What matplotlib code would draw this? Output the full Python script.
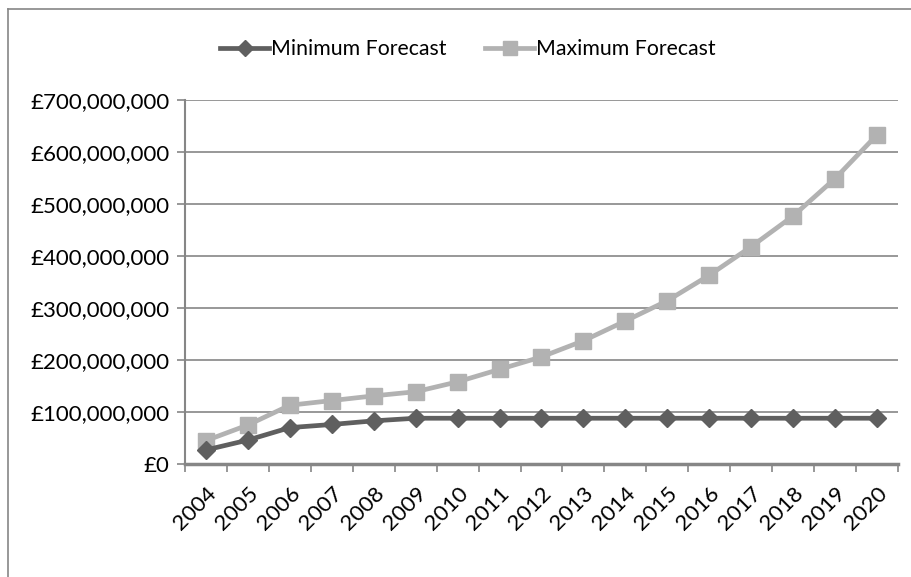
import matplotlib
matplotlib.use("Agg")
import matplotlib.pyplot as plt
from matplotlib.ticker import FuncFormatter, MultipleLocator, FixedLocator
from matplotlib.lines import Line2D

years = ["2004", "2005", "2006", "2007", "2008", "2009", "2010", "2011", "2012",
         "2013", "2014", "2015", "2016", "2017", "2018", "2019", "2020"]
min_forecast = [27e6, 46e6, 70e6, 76e6, 83e6, 88e6, 88e6, 88e6, 88e6,
                88e6, 88e6, 88e6, 88e6, 88e6, 88e6, 88e6, 88e6]
max_forecast = [45e6, 75e6, 113e6, 122e6, 131e6, 139e6, 158e6, 182e6, 206e6,
                237e6, 275e6, 314e6, 363e6, 418e6, 477e6, 549e6, 633e6]

plt.rcParams['font.family'] = ['Lato', 'DejaVu Sans']

fig = plt.figure(figsize=(9.12, 5.77), dpi=100)
ax = fig.add_axes([185/912, 1-464/577, (898-185)/912, (464-100)/577])

x = list(range(len(years)))
grid_c = "#868686"
ax.plot(x, min_forecast, color="#5f5f5f", lw=3.4, marker="D", markersize=9.5,
        label="Minimum Forecast", zorder=4, clip_on=False)
ax.plot(x, max_forecast, color="#b2b2b2", lw=3.4, marker="s", markersize=12,
        label="Maximum Forecast", zorder=3, clip_on=False)

ax.set_xlim(-0.5, len(years)-0.5)
ax.set_ylim(0, 700e6)
ax.yaxis.set_major_locator(MultipleLocator(100e6))
ax.yaxis.set_major_formatter(FuncFormatter(lambda v, p: "£{:,.0f}".format(v)))
ax.grid(axis='y', color=grid_c, lw=1.2)
ax.set_axisbelow(True)

fs = 16
ax.xaxis.set_major_locator(FixedLocator([i - 0.5 for i in range(len(years)+1)]))
ax.xaxis.set_major_formatter(FuncFormatter(lambda v, p: ""))
ax.xaxis.set_minor_locator(FixedLocator(x))
ax.set_xticklabels(years, minor=True, rotation=45, ha='right', rotation_mode='anchor')
ax.tick_params(axis='x', which='minor', length=0, pad=14, labelsize=fs)
ax.tick_params(axis='x', which='major', length=6, width=1.2, color=grid_c, direction='out')
ax.tick_params(axis='y', length=6, width=1.2, color=grid_c, labelsize=fs, pad=5)

for s in ['top', 'right']:
    ax.spines[s].set_visible(False)
for s in ['left', 'bottom']:
    ax.spines[s].set_color(grid_c)
ax.spines['left'].set_linewidth(1.5)
ax.spines['bottom'].set_linewidth(2.5)

leg = fig.legend(loc='center', bbox_to_anchor=(468/912, 1-49/577), ncol=2, frameon=False,
                 fontsize=15.3, handlelength=2.3, handletextpad=0.1, columnspacing=1.8,
                 markerscale=0.85)

# chart area border (left and top visible)
fig.add_artist(Line2D([8/912, 8/912], [0, 1-9/577], transform=fig.transFigure,
                      color=grid_c, lw=1.2))
fig.add_artist(Line2D([8/912, 1], [1-9/577, 1-9/577], transform=fig.transFigure,
                      color=grid_c, lw=1.2))

fig.savefig("out.png", dpi=100)
